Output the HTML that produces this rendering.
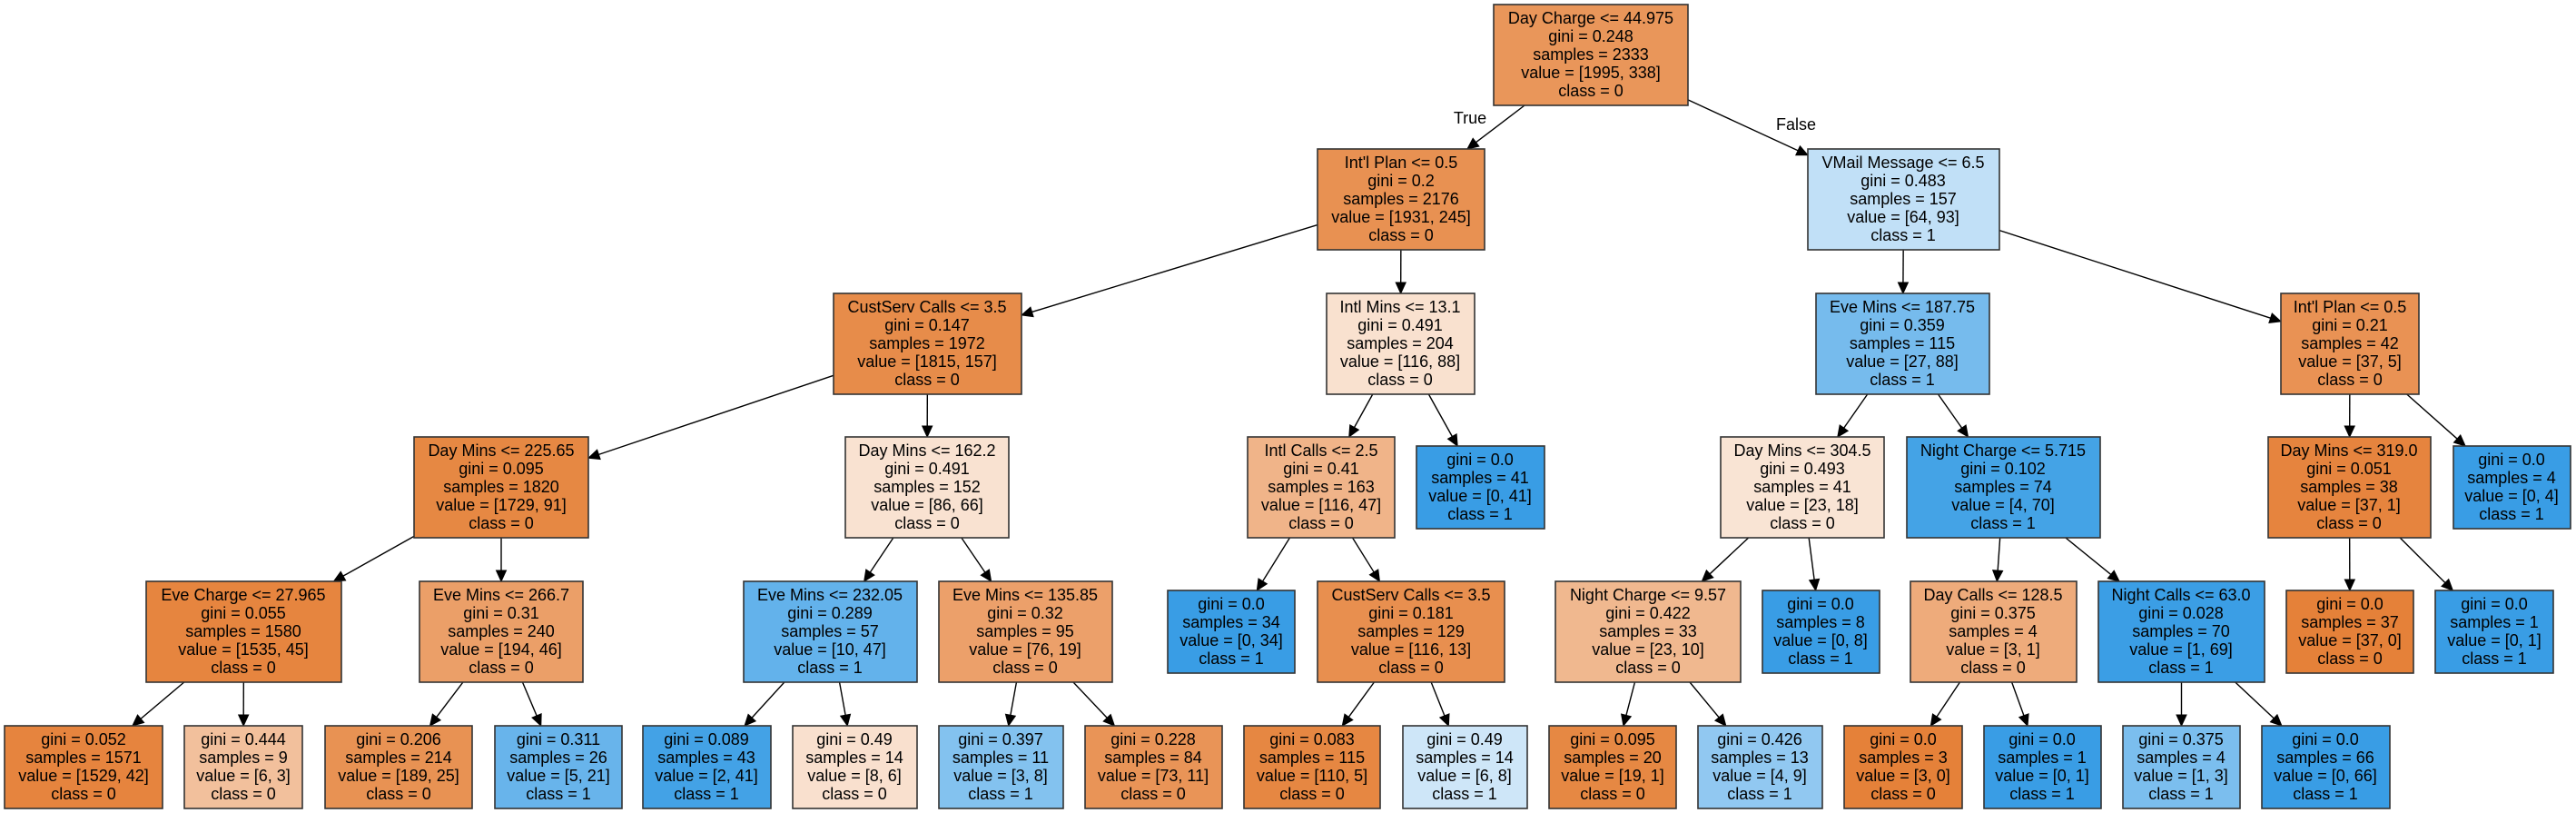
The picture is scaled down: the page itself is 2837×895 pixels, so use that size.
<!DOCTYPE html>
<html><head><meta charset="utf-8"><style>
html,body{margin:0;padding:0;background:#fff;}
svg{display:block;}
text{font-family:"Liberation Sans",Arial,sans-serif;font-size:18px;fill:#000;text-anchor:middle;}
rect{stroke:#333;stroke-width:1.6;}
line{stroke:#000;stroke-width:1.4;}
</style></head><body>
<svg id="s" width="2837" height="895" viewBox="0 0 2837 895" xmlns="http://www.w3.org/2000/svg">
<g id="edges"></g>
<g id="nodes">
<!-- L0 -->
<rect x="1645" y="5" width="214" height="111" fill="rgb(233,150,90)"/>
<text x="1752" y="26"><tspan x="1752">Day Charge &lt;= 44.975</tspan><tspan x="1752" dy="20">gini = 0.248</tspan><tspan x="1752" dy="20">samples = 2333</tspan><tspan x="1752" dy="20">value = [1995, 338]</tspan><tspan x="1752" dy="20">class = 0</tspan></text>
<!-- L1 -->
<rect x="1451" y="164" width="184" height="111" fill="rgb(232,145,82)"/>
<text x="1543" y="185"><tspan x="1543">Int'l Plan &lt;= 0.5</tspan><tspan x="1543" dy="20">gini = 0.2</tspan><tspan x="1543" dy="20">samples = 2176</tspan><tspan x="1543" dy="20">value = [1931, 245]</tspan><tspan x="1543" dy="20">class = 0</tspan></text>
<rect x="1991" y="164" width="211" height="111" fill="rgb(193,224,247)"/>
<text x="2096" y="185"><tspan x="2096">VMail Message &lt;= 6.5</tspan><tspan x="2096" dy="20">gini = 0.483</tspan><tspan x="2096" dy="20">samples = 157</tspan><tspan x="2096" dy="20">value = [64, 93]</tspan><tspan x="2096" dy="20">class = 1</tspan></text>
<!-- L2 -->
<rect x="918" y="323" width="207" height="111" fill="rgb(231,140,74)"/>
<text x="1021" y="344"><tspan x="1021">CustServ Calls &lt;= 3.5</tspan><tspan x="1021" dy="20">gini = 0.147</tspan><tspan x="1021" dy="20">samples = 1972</tspan><tspan x="1021" dy="20">value = [1815, 157]</tspan><tspan x="1021" dy="20">class = 0</tspan></text>
<rect x="1461" y="323" width="163" height="111" fill="rgb(249,225,207)"/>
<text x="1542" y="344"><tspan x="1542">Intl Mins &lt;= 13.1</tspan><tspan x="1542" dy="20">gini = 0.491</tspan><tspan x="1542" dy="20">samples = 204</tspan><tspan x="1542" dy="20">value = [116, 88]</tspan><tspan x="1542" dy="20">class = 0</tspan></text>
<rect x="2000" y="323" width="191" height="111" fill="rgb(118,187,237)"/>
<text x="2095" y="344"><tspan x="2095">Eve Mins &lt;= 187.75</tspan><tspan x="2095" dy="20">gini = 0.359</tspan><tspan x="2095" dy="20">samples = 115</tspan><tspan x="2095" dy="20">value = [27, 88]</tspan><tspan x="2095" dy="20">class = 1</tspan></text>
<rect x="2512" y="323" width="152" height="111" fill="rgb(233,146,84)"/>
<text x="2588" y="344"><tspan x="2588">Int'l Plan &lt;= 0.5</tspan><tspan x="2588" dy="20">gini = 0.21</tspan><tspan x="2588" dy="20">samples = 42</tspan><tspan x="2588" dy="20">value = [37, 5]</tspan><tspan x="2588" dy="20">class = 0</tspan></text>
<!-- L3 -->
<rect x="456" y="481" width="192" height="111" fill="rgb(230,136,67)"/>
<text x="552" y="502"><tspan x="552">Day Mins &lt;= 225.65</tspan><tspan x="552" dy="20">gini = 0.095</tspan><tspan x="552" dy="20">samples = 1820</tspan><tspan x="552" dy="20">value = [1729, 91]</tspan><tspan x="552" dy="20">class = 0</tspan></text>
<rect x="931" y="481" width="180" height="111" fill="rgb(249,226,209)"/>
<text x="1021" y="502"><tspan x="1021">Day Mins &lt;= 162.2</tspan><tspan x="1021" dy="20">gini = 0.491</tspan><tspan x="1021" dy="20">samples = 152</tspan><tspan x="1021" dy="20">value = [86, 66]</tspan><tspan x="1021" dy="20">class = 0</tspan></text>
<rect x="1374" y="481" width="162" height="111" fill="rgb(240,180,137)"/>
<text x="1455" y="502"><tspan x="1455">Intl Calls &lt;= 2.5</tspan><tspan x="1455" dy="20">gini = 0.41</tspan><tspan x="1455" dy="20">samples = 163</tspan><tspan x="1455" dy="20">value = [116, 47]</tspan><tspan x="1455" dy="20">class = 0</tspan></text>
<rect x="1560" y="491" width="141" height="91" fill="rgb(57,157,229)"/>
<text x="1630" y="512"><tspan x="1630">gini = 0.0</tspan><tspan x="1630" dy="20">samples = 41</tspan><tspan x="1630" dy="20">value = [0, 41]</tspan><tspan x="1630" dy="20">class = 1</tspan></text>
<rect x="1895" y="481" width="180" height="111" fill="rgb(249,228,212)"/>
<text x="1985" y="502"><tspan x="1985">Day Mins &lt;= 304.5</tspan><tspan x="1985" dy="20">gini = 0.493</tspan><tspan x="1985" dy="20">samples = 41</tspan><tspan x="1985" dy="20">value = [23, 18]</tspan><tspan x="1985" dy="20">class = 0</tspan></text>
<rect x="2100" y="481" width="213" height="111" fill="rgb(68,163,230)"/>
<text x="2206" y="502"><tspan x="2206">Night Charge &lt;= 5.715</tspan><tspan x="2206" dy="20">gini = 0.102</tspan><tspan x="2206" dy="20">samples = 74</tspan><tspan x="2206" dy="20">value = [4, 70]</tspan><tspan x="2206" dy="20">class = 1</tspan></text>
<rect x="2498" y="481" width="179" height="111" fill="rgb(230,132,62)"/>
<text x="2587" y="502"><tspan x="2587">Day Mins &lt;= 319.0</tspan><tspan x="2587" dy="20">gini = 0.051</tspan><tspan x="2587" dy="20">samples = 38</tspan><tspan x="2587" dy="20">value = [37, 1]</tspan><tspan x="2587" dy="20">class = 0</tspan></text>
<rect x="2702" y="491" width="129" height="91" fill="rgb(57,157,229)"/>
<text x="2766" y="512"><tspan x="2766">gini = 0.0</tspan><tspan x="2766" dy="20">samples = 4</tspan><tspan x="2766" dy="20">value = [0, 4]</tspan><tspan x="2766" dy="20">class = 1</tspan></text>
<!-- L4 -->
<rect x="161" y="640" width="215" height="111" fill="rgb(230,133,63)"/>
<text x="268" y="661"><tspan x="268">Eve Charge &lt;= 27.965</tspan><tspan x="268" dy="20">gini = 0.055</tspan><tspan x="268" dy="20">samples = 1580</tspan><tspan x="268" dy="20">value = [1535, 45]</tspan><tspan x="268" dy="20">class = 0</tspan></text>
<rect x="462" y="640" width="180" height="111" fill="rgb(235,159,104)"/>
<text x="552" y="661"><tspan x="552">Eve Mins &lt;= 266.7</tspan><tspan x="552" dy="20">gini = 0.31</tspan><tspan x="552" dy="20">samples = 240</tspan><tspan x="552" dy="20">value = [194, 46]</tspan><tspan x="552" dy="20">class = 0</tspan></text>
<rect x="819" y="640" width="191" height="111" fill="rgb(99,178,235)"/>
<text x="914" y="661"><tspan x="914">Eve Mins &lt;= 232.05</tspan><tspan x="914" dy="20">gini = 0.289</tspan><tspan x="914" dy="20">samples = 57</tspan><tspan x="914" dy="20">value = [10, 47]</tspan><tspan x="914" dy="20">class = 1</tspan></text>
<rect x="1034" y="640" width="191" height="111" fill="rgb(236,160,106)"/>
<text x="1129" y="661"><tspan x="1129">Eve Mins &lt;= 135.85</tspan><tspan x="1129" dy="20">gini = 0.32</tspan><tspan x="1129" dy="20">samples = 95</tspan><tspan x="1129" dy="20">value = [76, 19]</tspan><tspan x="1129" dy="20">class = 0</tspan></text>
<rect x="1286" y="650" width="140" height="91" fill="rgb(57,157,229)"/>
<text x="1356" y="671"><tspan x="1356">gini = 0.0</tspan><tspan x="1356" dy="20">samples = 34</tspan><tspan x="1356" dy="20">value = [0, 34]</tspan><tspan x="1356" dy="20">class = 1</tspan></text>
<rect x="1451" y="640" width="206" height="111" fill="rgb(232,143,79)"/>
<text x="1554" y="661"><tspan x="1554">CustServ Calls &lt;= 3.5</tspan><tspan x="1554" dy="20">gini = 0.181</tspan><tspan x="1554" dy="20">samples = 129</tspan><tspan x="1554" dy="20">value = [116, 13]</tspan><tspan x="1554" dy="20">class = 0</tspan></text>
<rect x="1713" y="640" width="204" height="111" fill="rgb(240,184,143)"/>
<text x="1815" y="661"><tspan x="1815">Night Charge &lt;= 9.57</tspan><tspan x="1815" dy="20">gini = 0.422</tspan><tspan x="1815" dy="20">samples = 33</tspan><tspan x="1815" dy="20">value = [23, 10]</tspan><tspan x="1815" dy="20">class = 0</tspan></text>
<rect x="1941" y="650" width="129" height="91" fill="rgb(57,157,229)"/>
<text x="2005" y="671"><tspan x="2005">gini = 0.0</tspan><tspan x="2005" dy="20">samples = 8</tspan><tspan x="2005" dy="20">value = [0, 8]</tspan><tspan x="2005" dy="20">class = 1</tspan></text>
<rect x="2104" y="640" width="183" height="111" fill="rgb(238,171,123)"/>
<text x="2195" y="661"><tspan x="2195">Day Calls &lt;= 128.5</tspan><tspan x="2195" dy="20">gini = 0.375</tspan><tspan x="2195" dy="20">samples = 4</tspan><tspan x="2195" dy="20">value = [3, 1]</tspan><tspan x="2195" dy="20">class = 0</tspan></text>
<rect x="2311" y="640" width="183" height="111" fill="rgb(59,158,229)"/>
<text x="2402" y="661"><tspan x="2402">Night Calls &lt;= 63.0</tspan><tspan x="2402" dy="20">gini = 0.028</tspan><tspan x="2402" dy="20">samples = 70</tspan><tspan x="2402" dy="20">value = [1, 69]</tspan><tspan x="2402" dy="20">class = 1</tspan></text>
<rect x="2518" y="650" width="140" height="91" fill="rgb(229,129,57)"/>
<text x="2588" y="671"><tspan x="2588">gini = 0.0</tspan><tspan x="2588" dy="20">samples = 37</tspan><tspan x="2588" dy="20">value = [37, 0]</tspan><tspan x="2588" dy="20">class = 0</tspan></text>
<rect x="2682" y="650" width="130" height="91" fill="rgb(57,157,229)"/>
<text x="2747" y="671"><tspan x="2747">gini = 0.0</tspan><tspan x="2747" dy="20">samples = 1</tspan><tspan x="2747" dy="20">value = [0, 1]</tspan><tspan x="2747" dy="20">class = 1</tspan></text>
<!-- L5 leaves -->
<rect x="5" y="799" width="174" height="91" fill="rgb(230,132,62)"/>
<text x="92" y="820"><tspan x="92">gini = 0.052</tspan><tspan x="92" dy="20">samples = 1571</tspan><tspan x="92" dy="20">value = [1529, 42]</tspan><tspan x="92" dy="20">class = 0</tspan></text>
<rect x="203" y="799" width="130" height="91" fill="rgb(242,192,156)"/>
<text x="268" y="820"><tspan x="268">gini = 0.444</tspan><tspan x="268" dy="20">samples = 9</tspan><tspan x="268" dy="20">value = [6, 3]</tspan><tspan x="268" dy="20">class = 0</tspan></text>
<rect x="358" y="799" width="162" height="91" fill="rgb(232,146,83)"/>
<text x="439" y="820"><tspan x="439">gini = 0.206</tspan><tspan x="439" dy="20">samples = 214</tspan><tspan x="439" dy="20">value = [189, 25]</tspan><tspan x="439" dy="20">class = 0</tspan></text>
<rect x="545" y="799" width="140" height="91" fill="rgb(104,180,235)"/>
<text x="615" y="820"><tspan x="615">gini = 0.311</tspan><tspan x="615" dy="20">samples = 26</tspan><tspan x="615" dy="20">value = [5, 21]</tspan><tspan x="615" dy="20">class = 1</tspan></text>
<rect x="708" y="799" width="141" height="91" fill="rgb(67,162,230)"/>
<text x="778" y="820"><tspan x="778">gini = 0.089</tspan><tspan x="778" dy="20">samples = 43</tspan><tspan x="778" dy="20">value = [2, 41]</tspan><tspan x="778" dy="20">class = 1</tspan></text>
<rect x="873" y="799" width="137" height="91" fill="rgb(249,224,206)"/>
<text x="941" y="820"><tspan x="941">gini = 0.49</tspan><tspan x="941" dy="20">samples = 14</tspan><tspan x="941" dy="20">value = [8, 6]</tspan><tspan x="941" dy="20">class = 0</tspan></text>
<rect x="1034" y="799" width="137" height="91" fill="rgb(131,194,239)"/>
<text x="1102" y="820"><tspan x="1102">gini = 0.397</tspan><tspan x="1102" dy="20">samples = 11</tspan><tspan x="1102" dy="20">value = [3, 8]</tspan><tspan x="1102" dy="20">class = 1</tspan></text>
<rect x="1195" y="799" width="151" height="91" fill="rgb(233,148,87)"/>
<text x="1270" y="820"><tspan x="1270">gini = 0.228</tspan><tspan x="1270" dy="20">samples = 84</tspan><tspan x="1270" dy="20">value = [73, 11]</tspan><tspan x="1270" dy="20">class = 0</tspan></text>
<rect x="1370" y="799" width="150" height="91" fill="rgb(230,135,66)"/>
<text x="1445" y="820"><tspan x="1445">gini = 0.083</tspan><tspan x="1445" dy="20">samples = 115</tspan><tspan x="1445" dy="20">value = [110, 5]</tspan><tspan x="1445" dy="20">class = 0</tspan></text>
<rect x="1545" y="799" width="137" height="91" fill="rgb(206,230,248)"/>
<text x="1613" y="820"><tspan x="1613">gini = 0.49</tspan><tspan x="1613" dy="20">samples = 14</tspan><tspan x="1613" dy="20">value = [6, 8]</tspan><tspan x="1613" dy="20">class = 1</tspan></text>
<rect x="1706" y="799" width="140" height="91" fill="rgb(230,136,67)"/>
<text x="1776" y="820"><tspan x="1776">gini = 0.095</tspan><tspan x="1776" dy="20">samples = 20</tspan><tspan x="1776" dy="20">value = [19, 1]</tspan><tspan x="1776" dy="20">class = 0</tspan></text>
<rect x="1870" y="799" width="137" height="91" fill="rgb(145,200,241)"/>
<text x="1938" y="820"><tspan x="1938">gini = 0.426</tspan><tspan x="1938" dy="20">samples = 13</tspan><tspan x="1938" dy="20">value = [4, 9]</tspan><tspan x="1938" dy="20">class = 1</tspan></text>
<rect x="2031" y="799" width="130" height="91" fill="rgb(229,129,57)"/>
<text x="2096" y="820"><tspan x="2096">gini = 0.0</tspan><tspan x="2096" dy="20">samples = 3</tspan><tspan x="2096" dy="20">value = [3, 0]</tspan><tspan x="2096" dy="20">class = 0</tspan></text>
<rect x="2185" y="799" width="129" height="91" fill="rgb(57,157,229)"/>
<text x="2249" y="820"><tspan x="2249">gini = 0.0</tspan><tspan x="2249" dy="20">samples = 1</tspan><tspan x="2249" dy="20">value = [0, 1]</tspan><tspan x="2249" dy="20">class = 1</tspan></text>
<rect x="2338" y="799" width="129" height="91" fill="rgb(123,190,238)"/>
<text x="2402" y="820"><tspan x="2402">gini = 0.375</tspan><tspan x="2402" dy="20">samples = 4</tspan><tspan x="2402" dy="20">value = [1, 3]</tspan><tspan x="2402" dy="20">class = 1</tspan></text>
<rect x="2491" y="799" width="141" height="91" fill="rgb(57,157,229)"/>
<text x="2561" y="820"><tspan x="2561">gini = 0.0</tspan><tspan x="2561" dy="20">samples = 66</tspan><tspan x="2561" dy="20">value = [0, 66]</tspan><tspan x="2561" dy="20">class = 1</tspan></text>
</g>
<text x="1619" y="136">True</text>
<text x="1978" y="143">False</text>
</svg>
<script>
(function(){
var R=[].slice.call(document.querySelectorAll('#nodes rect')).map(function(r){
 return {x:+r.getAttribute('x'),y:+r.getAttribute('y'),w:+r.getAttribute('width'),h:+r.getAttribute('height')};});
var E=[[0,1],[0,2],[1,3],[1,4],[2,5],[2,6],[3,7],[3,8],[4,9],[4,10],[5,11],[5,12],[6,13],[6,14],
[7,15],[7,16],[8,17],[8,18],[9,19],[9,20],[11,21],[11,22],[12,23],[12,24],[13,25],[13,26],
[15,27],[15,28],[16,29],[16,30],[17,31],[17,32],[18,33],[18,34],[20,35],[20,36],[21,37],[21,38],[23,39],[23,40],[24,41],[24,42]];
function clip(b,cx,cy,dx,dy){var t=1e9;
 if(dx)t=Math.min(t,(b.w/2)/Math.abs(dx));if(dy)t=Math.min(t,(b.h/2)/Math.abs(dy));
 return [cx+dx*t,cy+dy*t];}
var g=document.getElementById('edges'),ns='http://www.w3.org/2000/svg',h='';
E.forEach(function(e){var a=R[e[0]],b=R[e[1]];
 var ax=a.x+a.w/2,ay=a.y+a.h/2,bx=b.x+b.w/2,by=b.y+b.h/2,dx=bx-ax,dy=by-ay;
 var p=clip(a,ax,ay,dx,dy),q=clip(b,bx,by,-dx,-dy);
 var L=Math.hypot(q[0]-p[0],q[1]-p[1]),ux=(q[0]-p[0])/L,uy=(q[1]-p[1])/L,al=12,aw=5.5;
 var bx2=q[0]-ux*al,by2=q[1]-uy*al;
 h+='<line x1="'+p[0]+'" y1="'+p[1]+'" x2="'+bx2+'" y2="'+by2+'"/>';
 h+='<polygon fill="#000" stroke="#000" stroke-width="1" points="'+q[0]+','+q[1]+' '+(bx2-uy*aw)+','+(by2+ux*aw)+' '+(bx2+uy*aw)+','+(by2-ux*aw)+'"/>';
});
g.innerHTML=h;
})();
</script>
</body></html>
